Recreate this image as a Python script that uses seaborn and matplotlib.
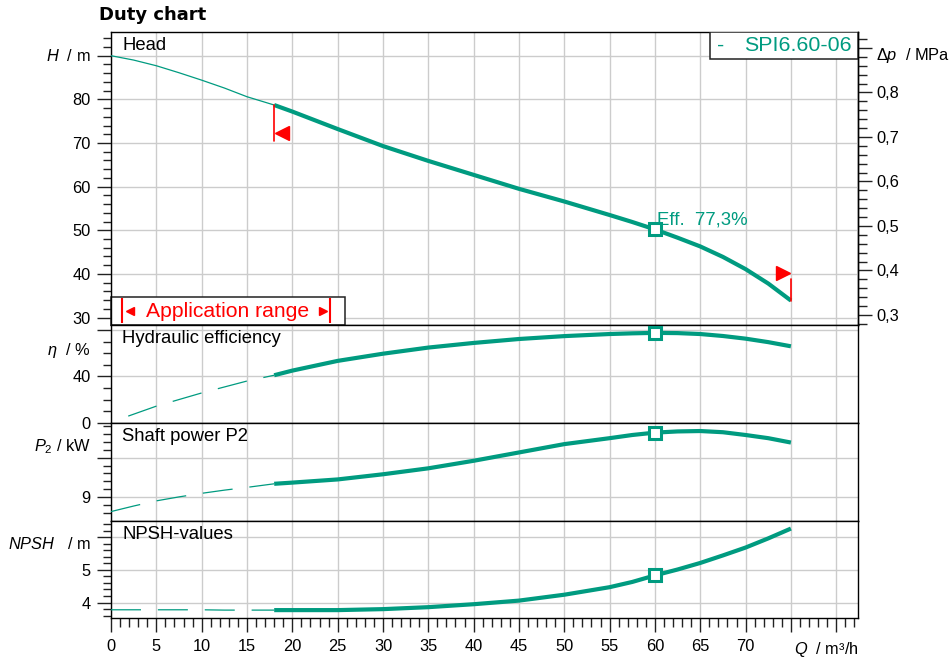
import matplotlib
matplotlib.use('Agg')
import matplotlib.pyplot as plt
import matplotlib.ticker as mticker
from matplotlib.patches import Rectangle
import seaborn as sns

### DATA ###
# flow Q in m³/h: thin part below the application range, thick part inside it
q_low = [0, 2.5, 5, 7.5, 10, 12.5, 15, 18]
q_eff_low = [1.9, 5, 10, 15, 18]
q_high = [18, 20, 25, 30, 35, 40, 45, 50, 55, 57.5, 60, 62.5, 65, 67.5, 70, 72.5, 75]

head_low = [90, 89.0, 87.7, 86.1, 84.4, 82.6, 80.6, 78.7]
head_high = [78.7, 77.2, 73.2, 69.3, 65.9, 62.7, 59.5, 56.6, 53.5, 51.9, 50.2,
             48.3, 46.3, 43.9, 41.1, 37.8, 33.9]

eff_low = [5.7, 14.3, 25.7, 36.0, 41.0]
eff_high = [41.0, 45.0, 53.4, 59.6, 64.9, 68.9, 72.3, 74.8, 76.6, 77.2, 77.6,
            77.4, 76.6, 74.9, 72.6, 69.6, 66.0]

power_low = [8.64, 8.78, 8.91, 9.01, 9.10, 9.18, 9.25, 9.34]
power_high = [9.34, 9.37, 9.45, 9.58, 9.73, 9.92, 10.13, 10.34, 10.49, 10.57, 10.63,
              10.66, 10.67, 10.64, 10.57, 10.49, 10.38]

npsh_low = [3.78, 3.78, 3.78, 3.78, 3.78, 3.77, 3.77, 3.77]
npsh_high = [3.77, 3.77, 3.77, 3.80, 3.86, 3.95, 4.06, 4.24, 4.47, 4.63, 4.83,
             5.01, 5.21, 5.44, 5.68, 5.96, 6.26]

duty_q = 60
duty_head, duty_eff, duty_power, duty_npsh = 50.2, 77.6, 10.63, 4.83
app_range = (18, 75)
pump_name = 'SPI6.60-06'
eff_text = 'Eff.  77,3%'
x_ticks = list(range(0, 85, 5))
x_labels = [str(v) for v in range(0, 75, 5)] + ['', '']

TEAL = '#009b80'
RED = '#ff0000'
GRID = '#cccccc'

### STYLE ###
sns.set_theme(style='ticks')
plt.rcParams['font.family'] = ['Liberation Sans', 'DejaVu Sans']
plt.rcParams['mathtext.fontset'] = 'custom'
plt.rcParams['mathtext.rm'] = 'Liberation Sans'
plt.rcParams['mathtext.it'] = 'Liberation Sans:italic'
plt.rcParams['axes.edgecolor'] = 'black'
plt.rcParams['axes.linewidth'] = 1.0
plt.rcParams['text.color'] = 'black'
plt.rcParams['xtick.color'] = 'black'
plt.rcParams['ytick.color'] = 'black'
plt.rcParams['xtick.labelcolor'] = 'black'
plt.rcParams['ytick.labelcolor'] = 'black'

W, H = 953, 663
fig = plt.figure(figsize=(W / 100, H / 100), dpi=100)


def box(top, bottom, left=111, right=858):
    return [left / W, 1 - bottom / H, (right - left) / W, (bottom - top) / H]


ax_head = fig.add_axes(box(31.7, 325))
ax_eff = fig.add_axes(box(325, 422.7))
ax_pow = fig.add_axes(box(422.7, 520.7))
ax_npsh = fig.add_axes(box(520.7, 618.3))
axes = [ax_head, ax_eff, ax_pow, ax_npsh]

ylims = [(28.3, 95.5), (0, 84.4), (8.41, 10.88), (3.52, 6.5)]
for ax, lim in zip(axes, ylims):
    ax.set_xlim(0, 82.4)
    ax.set_ylim(*lim)
    ax.set_axisbelow(True)
    ax.xaxis.set_major_locator(mticker.FixedLocator(x_ticks))
    ax.xaxis.set_minor_locator(mticker.MultipleLocator(1))
    ax.grid(True, which='major', color=GRID, lw=1.0)
    ax.tick_params(axis='y', which='major', direction='out', length=10, width=1,
                   labelsize=11.8, pad=4.5, color='#222222')
    ax.tick_params(axis='y', which='minor', direction='out', length=6, width=1,
                   color='#222222', left=True)
    for s in ax.spines.values():
        s.set_visible(True)
        s.set_color('black')
        s.set_linewidth(1.0)

for ax in axes[:-1]:
    ax.tick_params(axis='x', which='both', length=0, labelbottom=False)

ax_npsh.set_xticklabels(x_labels)
ax_npsh.tick_params(axis='x', which='major', direction='out', length=10, width=1,
                    labelsize=11.8, pad=5, color='#222222')
ax_npsh.tick_params(axis='x', which='minor', direction='out', length=6.5, width=1,
                    color='#222222', bottom=True)

# y ticks per panel
ax_head.yaxis.set_major_locator(mticker.MultipleLocator(10))
ax_head.yaxis.set_minor_locator(mticker.MultipleLocator(2))
ax_head.yaxis.set_major_formatter(mticker.FuncFormatter(
    lambda v, p: '' if v > 85 else f'{v:.0f}'))

ax_eff.yaxis.set_major_locator(mticker.FixedLocator([0, 40, 80]))
ax_eff.yaxis.set_minor_locator(mticker.MultipleLocator(10))
ax_eff.set_yticklabels(['0', '40', ''])

ax_pow.yaxis.set_major_locator(mticker.FixedLocator([9, 10]))
ax_pow.yaxis.set_minor_locator(mticker.MultipleLocator(0.2))
ax_pow.set_yticklabels(['9', ''])

ax_npsh.yaxis.set_major_locator(mticker.FixedLocator([4, 5, 6]))
ax_npsh.yaxis.set_minor_locator(mticker.MultipleLocator(0.2))
ax_npsh.set_yticklabels(['4', '5', ''])

# right axis: head converted to pressure (rho*g, water)
sec = ax_head.secondary_yaxis('right', functions=(lambda h: h * 0.00980665,
                                                   lambda p: p / 0.00980665))
sec.yaxis.set_major_locator(mticker.FixedLocator([0.3, 0.4, 0.5, 0.6, 0.7, 0.8, 0.9]))
sec.yaxis.set_minor_locator(mticker.MultipleLocator(0.02))
sec.yaxis.set_major_formatter(mticker.FuncFormatter(
    lambda v, p: '' if v > 0.85 else f'{v:.1f}'.replace('.', ',')))
sec.tick_params(which='major', direction='out', length=10, width=1, labelsize=11.8,
                pad=3.5, color='#222222')
sec.tick_params(which='minor', direction='out', length=6.5, width=1, color='#222222')
sec.spines['right'].set_color('black')

### CURVES ###
dash = (0, (24, 13.5))
curves = [
    (ax_head, q_low, head_low, q_high, head_high, duty_head, '-'),
    (ax_eff, q_eff_low, eff_low, q_high, eff_high, duty_eff, dash),
    (ax_pow, q_low, power_low, q_high, power_high, duty_power, dash),
    (ax_npsh, q_low, npsh_low, q_high, npsh_high, duty_npsh, dash),
]
for ax, xl, yl, xh, yh, yd, ls in curves:
    sns.lineplot(x=xl, y=yl, ax=ax, color=TEAL, lw=0.9, linestyle=ls, zorder=3)
    sns.lineplot(x=xh, y=yh, ax=ax, color=TEAL, lw=3.0, zorder=3,
                 solid_capstyle='butt', solid_joinstyle='round')
    ax.plot([duty_q], [yd], marker='s', ms=8, mfc='white', mec=TEAL, mew=2.2,
            ls='none', zorder=5, clip_on=False)
    ax.set_xlabel('')
    ax.set_ylabel('')

# application range limits on the head curve
q_min, q_max = app_range
h_min, h_max = head_high[0], head_high[-1]
ax_head.plot([q_min, q_min], [h_min, h_min - 8.2], color=RED, lw=1.2, zorder=4)
ax_head.plot([q_min + 0.85], [h_min - 6.5], marker='<', ms=10, color=RED, ls='none', zorder=4)
ax_head.plot([q_max, q_max], [h_max, h_max + 4.9], color=RED, lw=1.2, zorder=4)
ax_head.plot([q_max - 0.85], [h_max + 6.4], marker='>', ms=10, color=RED, ls='none', zorder=4)

ax_head.text(duty_q + 0.2, duty_head + 1.2, eff_text, color=TEAL, fontsize=13.4,
             ha='left', va='baseline', zorder=6)

# "Application range" box in the lower left corner
y0 = ylims[0][0]
ax_head.add_patch(Rectangle((0, y0), 25.8, 34.8 - y0, fc='white', ec='#222222',
                            lw=1.1, zorder=2, clip_on=False))
ax_head.vlines([1.25, 24.2], y0 + 0.5, 34.5, color=RED, lw=1.5, zorder=3)
ax_head.plot([2.15], [31.5], marker='<', ms=6, color=RED, ls='none', zorder=3)
ax_head.plot([23.4], [31.5], marker='>', ms=6, color=RED, ls='none', zorder=3)
ax_head.text(12.9, 31.3, 'Application range', color=RED, fontsize=15.2,
             ha='center', va='center', zorder=3)

# pump name box top right
ax_head.add_patch(Rectangle((0.802, 0.906), 0.198, 0.094, transform=ax_head.transAxes,
                            fc='white', ec='#222222', lw=1.1, zorder=6))
ax_head.text(0.811, 0.953, '-', transform=ax_head.transAxes, color=TEAL,
             fontsize=15.4, ha='left', va='center', zorder=7)
ax_head.text(0.847, 0.953, pump_name, transform=ax_head.transAxes, color=TEAL,
             fontsize=15.4, ha='left', va='center', zorder=7)

# panel titles
for ax, name in zip(axes, ['Head', 'Hydraulic efficiency', 'Shaft power P2', 'NPSH-values']):
    ax.annotate(name, xy=(0, 1), xycoords='axes fraction', xytext=(8, -3.5),
                textcoords='offset points', ha='left', va='top', fontsize=13.3,
                color='black')

# axis quantity labels on the left
for ax, lab, yv in [(ax_head, r'$H$  / m', 90), (ax_eff, r'$\eta$  / %', 62.5),
                    (ax_pow, r'$P_2$ / kW', 10.28), (ax_npsh, r'$NPSH$   / m', 5.8)]:
    ax.annotate(lab, xy=(0, yv), xycoords=('axes fraction', 'data'), xytext=(-14.6, 0),
                textcoords='offset points', ha='right', va='center', fontsize=11.8)

ax_head.annotate(r'$\Delta p$  / MPa', xy=(1, 90), xycoords=('axes fraction', 'data'),
                 xytext=(13, 0), textcoords='offset points', ha='left', va='center',
                 fontsize=11.8, annotation_clip=False)

ax_npsh.annotate(r'$Q$  / m³/h', xy=(1, 0), xycoords='axes fraction', xytext=(0.5, -22.8),
                 textcoords='offset points', ha='right', va='center', fontsize=11.8,
                 annotation_clip=False)

fig.text(99.3 / W, 1 - 20 / H, 'Duty chart', fontsize=13, fontweight='bold',
         family='DejaVu Sans', ha='left', va='baseline')

fig.savefig('out.png', dpi=100)
